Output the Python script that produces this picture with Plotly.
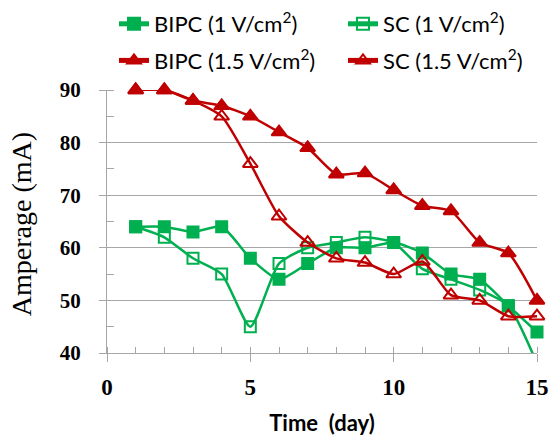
import plotly.graph_objects as go

# Measured current over the test period
days = list(range(1, 16))
bipc_1v = [64, 64, 63, 64, 58, 54, 57, 60, 60, 61, 59, 55, 54, 49, 44]
sc_1v = [64, 62, 58, 55, 45, 57, 60, 61, 62, 61, 56, 54, 52, 49, 38]
bipc_15v = [90, 90, 88, 87, 85, 82, 79, 74, 74.2, 71, 68, 67, 61, 59, 50]
sc_15v = [90, 90, 88, 85, 76, 66, 61, 58, 57.2, 55, 57.4, 51, 50, 47, 47]

names = [
    "BIPC (1 V/cm<sup>2</sup>)",
    "SC (1 V/cm<sup>2</sup>)",
    "BIPC (1.5 V/cm<sup>2</sup>)",
    "SC (1.5 V/cm<sup>2</sup>)",
]

GREEN = "#00B050"
RED = "#C00000"
GRID = "#A6A6A6"

# (values, name, colour, marker, size, clip markers, legend box)
series = [
    (bipc_1v, names[0], GREEN, "square", 11, False, "legend"),
    (sc_1v, names[1], GREEN, "square-open", 11, True, "legend2"),
    (bipc_15v, names[2], RED, "triangle-up", 13, False, "legend"),
    (sc_15v, names[3], RED, "triangle-up-open", 13, False, "legend2"),
]

fig = go.Figure()
for i, (vals, name, color, symbol, size, clip, leg) in enumerate(series):
    fig.add_trace(go.Scatter(
        x=days, y=vals, name=name, mode="lines+markers",
        line=dict(color=color, width=2.5, shape="spline", smoothing=0.6),
        marker=dict(symbol=symbol, size=size, color=color,
                    line=dict(color=color, width=2)),
        cliponaxis=clip, legend=leg, legendgroup=f"g{i}",
    ))

legend_common = dict(
    orientation="v", xanchor="left", yanchor="top",
    xref="container", yref="container", y=1.0 - 3 / 436,
    bgcolor="rgba(0,0,0,0)",
    font=dict(family="Lato", size=22, color="black"),
    itemsizing="constant", tracegroupgap=5,
)

fig.update_layout(
    width=550, height=436,
    margin=dict(l=107, r=13, t=90, b=83, autoexpand=False),
    paper_bgcolor="white", plot_bgcolor="white",
    font=dict(family="Lato", color="black"),
    showlegend=True,
    legend=dict(x=114 / 550, **legend_common),
    legend2=dict(x=343 / 550, **legend_common),
    xaxis=dict(
        range=[0, 15], tickvals=[0, 5, 10, 15],
        showgrid=False, zeroline=False,
        showline=True, linecolor=GRID, linewidth=1,
        ticks="outside", ticklen=8, tickcolor=GRID,
        ticklabelstandoff=5,
        tickfont=dict(family="Liberation Serif", size=23, color="black", weight="bold"),
        minor=dict(dtick=1, ticks="inside", ticklen=6, tickcolor=GRID, showgrid=False),
        title=dict(text="Time  (day)",
                   font=dict(family="Lato", size=22, color="black", weight="bold"),
                   standoff=22),
    ),
    yaxis=dict(
        range=[40, 90], dtick=10,
        showgrid=True, gridcolor=GRID, gridwidth=1, zeroline=False,
        showline=True, linecolor=GRID, linewidth=1,
        ticks="outside", ticklen=7, tickcolor=GRID,
        ticklabelstandoff=14,
        tickfont=dict(family="Liberation Serif", size=21, color="black", weight="bold"),
        minor=dict(dtick=5, ticks="inside", ticklen=7, tickcolor=GRID, showgrid=False),
    ),
    annotations=[dict(
        text="Amperage (mA)", textangle=-90, showarrow=False,
        xref="paper", x=-(107 - 21) / 430, xanchor="center",
        yref="paper", y=0.49, yanchor="middle",
        font=dict(family="Liberation Serif", size=28, color="black"),
    )],
)

fig.write_html("out.html")
